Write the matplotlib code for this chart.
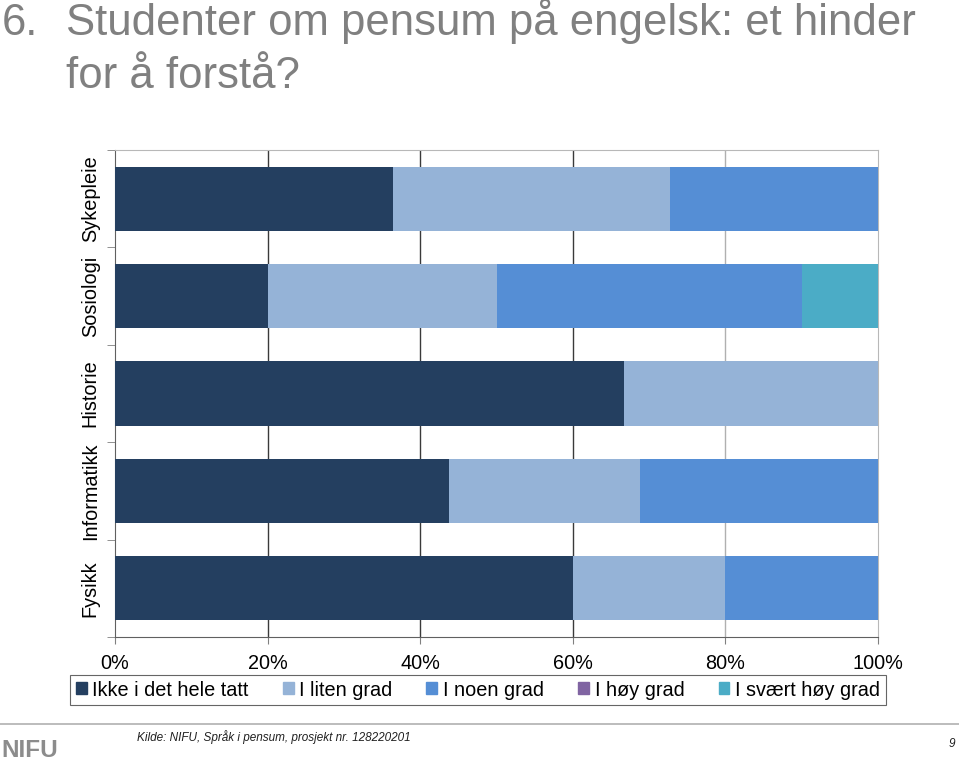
import matplotlib
matplotlib.use("Agg")
import matplotlib.pyplot as plt
from matplotlib.patches import Patch
import numpy as np

plt.rcParams['font.family'] = ['Liberation Sans', 'DejaVu Sans']

categories = ["Fysikk", "Informatikk", "Historie", "Sosiologi", "Sykepleie"]
series_names = ["Ikke i det hele tatt", "I liten grad", "I noen grad", "I høy grad", "I svært høy grad"]
ikke = [60.0, 43.75, 66.7, 20.0, 36.4]
liten = [20.0, 25.0, 33.3, 30.0, 36.4]
noen = [20.0, 31.25, 0.0, 40.0, 27.2]
hoy = [0.0, 0.0, 0.0, 0.0, 0.0]
svaert = [0.0, 0.0, 0.0, 10.0, 0.0]
colors = ["#243F60", "#95B3D7", "#558ED5", "#8064A2", "#4BACC6"]
xtick_vals = [0, 20, 40, 60, 80, 100]
xtick_labels = ["0%", "20%", "40%", "60%", "80%", "100%"]

fig = plt.figure(figsize=(9.59, 7.61), dpi=100)
ax = fig.add_axes([115/959, 1-637/761, (878-115)/959, (637-150)/761])

y = np.arange(len(categories))
left = np.zeros(len(categories))
for vals, c, name in zip([ikke, liten, noen, hoy, svaert], colors, series_names):
    v = np.array(vals)
    ax.barh(y, v, left=left, height=0.66, color=c, label=name, zorder=3)
    left += v

ax.set_xlim(0, 100)
ax.set_ylim(-0.5, len(categories) - 0.5)
ax.set_xticks(xtick_vals)
ax.set_xticklabels(xtick_labels, fontsize=14.3)
grid_cols = ["#3a3a3a", "#3a3a3a", "#3a3a3a", "#3a3a3a", "#b0b0b0", "#b0b0b0"]
for xv, gc in zip(xtick_vals[1:-1], grid_cols[1:-1]):
    ax.axvline(xv, color=gc, lw=1.0, zorder=1)
ax.set_yticks(y)
ax.set_yticklabels(categories, rotation=90, va='center', fontsize=14.3)
ax.set_yticks(np.arange(-0.5, len(categories), 1.0), minor=True)
ax.tick_params(axis='y', which='major', length=0, pad=11)
ax.tick_params(axis='y', which='minor', length=6, color='#808080')
ax.tick_params(axis='x', length=5, color='#808080', pad=7)
for s in ['top', 'right']:
    ax.spines[s].set_color('#b8b8b8')
for s in ['left', 'bottom']:
    ax.spines[s].set_color('#606060')

handles = [Patch(color=c) for c in colors]
leg = fig.legend(handles, series_names, loc='center', bbox_to_anchor=(478/959, 1-690/761),
                 ncol=5, fontsize=14.3, frameon=True, fancybox=False, edgecolor='#404040',
                 handlelength=0.55, handleheight=0.55, handletextpad=0.3, columnspacing=1.7,
                 borderpad=0.3)
leg.get_frame().set_linewidth(0.8)

fig.text(2/959, 1-35/761, "6.", fontsize=31.5, color='#808080', va='baseline', ha='left')
fig.text(66/959, 1-35/761, "Studenter om pensum på engelsk: et hinder", fontsize=31.5,
         color='#808080', va='baseline', ha='left')
fig.text(66/959, 1-88/761, "for å forstå?", fontsize=31.5, color='#808080', va='baseline', ha='left')

fig.add_artist(plt.Line2D([0, 1], [1-724/761, 1-724/761], color='#b0b0b0', lw=1.2))
fig.text(1/959, 1-757/761, "NIFU", fontsize=17.5, color='#8c8c8c', va='baseline', ha='left',
         weight='bold')
fig.text(137/959, 1-737/761, "Kilde: NIFU, Språk i pensum, prosjekt nr. 128220201", fontsize=8.5,
         style='italic', color='#202020', va='center', ha='left')
fig.text(955/959, 1-744/761, "9", fontsize=8.5, style='italic', color='#202020', va='center', ha='right')

fig.savefig("out.png", dpi=100)
